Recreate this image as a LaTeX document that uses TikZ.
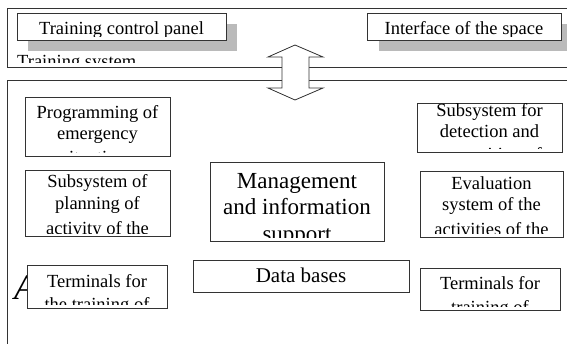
\documentclass[tikz,border=0pt]{standalone}
\usepackage{fontspec}
\setmainfont{Liberation Serif}
\begin{document}
\begin{tikzpicture}[x=1pt,y=-1pt,
  frame/.style={draw=black!80, line width=0.8pt},
  box/.style={draw=black!80, line width=0.8pt, fill=white, inner sep=0pt, anchor=north west},
  shadowbox/.style={fill=black!27, draw=none},
  txt/.style={inner sep=0pt, anchor=base, font=\fontsize{18.5}{21}\selectfont},
  bigtxt/.style={inner sep=0pt, anchor=base, font=\fontsize{23}{26}\selectfont}]
\useasboundingbox (0,0) rectangle (567,344);
\clip (0,0) rectangle (567,344);
\fill[white] (0,0) rectangle (567,344);
% top frame (training system)
\draw[frame] (580,8) -- (7,8) -- (7,67) -- (580,67);
\begin{scope}
  \clip (8,9) rectangle (300,63);
  \node[txt, anchor=base west] (tsys) at (17,68) {Training system};
\end{scope}
% training control panel
\fill[shadowbox] (28,24) rectangle (237,51);
\node[box, minimum width=209pt, minimum height=27pt] (tcp) at (17,13) {};
\begin{scope}
  \clip ([yshift=4pt]tcp.south west) rectangle (tcp.north east);
  \node[txt] (tcpt) at (121.5,34.5) {Training control panel};
\end{scope}
% interface of the space
\fill[shadowbox] (379,24) rectangle (580,51);
\node[box, minimum width=194pt, minimum height=27pt] (ifc) at (367,13) {};
\begin{scope}
  \clip ([yshift=4pt]ifc.south west) rectangle (ifc.north east);
  \node[txt] (ifct) at (464,34.5) {Interface of the space};
\end{scope}
% lower frame
\draw[frame] (580,80) -- (7,80) -- (7,360);
% double arrow
\draw[frame, fill=white] (295,45) -- (323,57) -- (309,57) -- (309,88) -- (323,88)
  -- (295,100) -- (268,88) -- (282,88) -- (282,57) -- (268,57) -- cycle;
% big italic A
\node[inner sep=0pt, anchor=base west, font=\fontsize{36}{36}\selectfont\itshape] (bigA) at (14,300) {A};
% Programming of emergency
\node[box, minimum width=145pt, minimum height=59pt] (prog) at (25,97) {};
\begin{scope}
  \clip ([yshift=4pt]prog.south west) rectangle (prog.north east);
  \node[txt] (prog1) at (97.5,119) {Programming of};
  \node[txt] (prog2) at (97.5,140) {emergency};
  \node[txt] (prog3) at (97.5,164) {situations};
\end{scope}
% Subsystem of planning
\node[box, minimum width=145pt, minimum height=66pt] (plan) at (25,170) {};
\begin{scope}
  \clip ([yshift=3pt]plan.south west) rectangle (plan.north east);
  \node[txt] (plan1) at (97.5,188) {Subsystem of};
  \node[txt] (plan2) at (97.5,210) {planning of};
  \node[txt] (plan3) at (97.5,235) {activity of the};
\end{scope}
% Management
\node[box, minimum width=174pt, minimum height=79pt] (mgmt) at (210,162) {};
\begin{scope}
  \clip ([yshift=4pt]mgmt.south west) rectangle (mgmt.north east);
  \node[bigtxt] (mgmt1) at (297,189) {Management};
  \node[bigtxt] (mgmt2) at (297,215) {and information};
  \node[bigtxt] (mgmt3) at (297,242) {support};
\end{scope}
% Data bases
\node[box, minimum width=216pt, minimum height=32pt] (db) at (193,260) {};
\node[inner sep=0pt, anchor=base, font=\fontsize{21}{24}\selectfont] (dbt) at (301,283) {Data bases};
% Subsystem for detection
\node[box, minimum width=145pt, minimum height=49pt] (det) at (417,103) {};
\begin{scope}
  \clip ([yshift=4pt]det.south west) rectangle (det.north east);
  \node[txt] (det1) at (489.5,117) {Subsystem for};
  \node[txt] (det2) at (489.5,138) {detection and};
  \node[txt] (det3) at (489.5,161) {recognition of};
\end{scope}
% Evaluation system
\node[box, minimum width=143pt, minimum height=66pt] (eval) at (420,171) {};
\begin{scope}
  \clip ([yshift=4pt]eval.south west) rectangle (eval.north east);
  \node[txt] (eval1) at (491.5,190) {Evaluation};
  \node[txt] (eval2) at (491.5,211) {system of the};
  \node[txt] (eval3) at (491.5,236) {activities of the};
\end{scope}
% Terminals left
\node[box, minimum width=140pt, minimum height=43pt] (terml) at (27,265) {};
\begin{scope}
  \clip ([yshift=4pt]terml.south west) rectangle (terml.north east);
  \node[txt] (terml1) at (97,288) {Terminals for};
  \node[txt] (terml2) at (97,310) {the training of};
\end{scope}
% Terminals right
\node[box, minimum width=140pt, minimum height=42pt] (termr) at (420,268) {};
\begin{scope}
  \clip ([yshift=4pt]termr.south west) rectangle (termr.north east);
  \node[txt] (termr1) at (490,290) {Terminals for};
  \node[txt] (termr2) at (490,313) {training of};
\end{scope}
\end{tikzpicture}
\end{document}
